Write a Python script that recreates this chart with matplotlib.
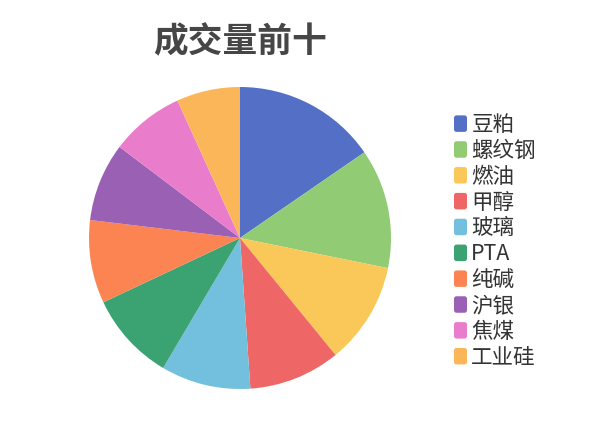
import matplotlib
matplotlib.use("Agg")
import matplotlib.pyplot as plt
from matplotlib.patches import FancyBboxPatch
from matplotlib.legend_handler import HandlerBase

plt.rcParams['font.family'] = ['Noto Sans CJK SC', 'DejaVu Sans']

title = "成交量前十"
categories = ["豆粕", "螺纹钢", "燃油", "甲醇", "玻璃", "PTA", "纯碱", "沪银", "焦煤", "工业硅"]
values = [15.4, 12.8, 10.9, 9.8, 9.6, 9.5, 8.9, 8.4, 7.9, 6.8]
colors = ["#5470c6", "#91cc75", "#fac858", "#ee6666", "#73c0de",
          "#3ba272", "#fc8452", "#9a60b4", "#ea7ccc", "#fcb65a"]

W, H = 600, 428
PX = 72 / 100  # points per pixel
fig = plt.figure(figsize=(6, 4.28), dpi=100)
cx, cy, r = 240, 238, 151
ax = fig.add_axes([(cx - r) / W, (H - cy - r) / H, 2 * r / W, 2 * r / H])
wedges, _ = ax.pie(values, colors=colors, startangle=90, counterclock=False,
                   radius=1.0, wedgeprops=dict(linewidth=0))
ax.set_xlim(-1, 1)
ax.set_ylim(-1, 1)
ax.set_aspect('equal')
ax.axis('off')

fig.text(cx / W, 1 - 42 / H, title, ha='center', va='center', fontsize=25,
         fontweight='bold', color='#464646')


class RoundHandler(HandlerBase):
    def create_artists(self, legend, orig_handle, xdescent, ydescent, width, height, fontsize, trans):
        w, h = 13 * PX, 16.5 * PX
        pad = 2.5 * PX
        x0 = (width - w) / 2 - xdescent
        y0 = (height - h) / 2 - ydescent
        p = FancyBboxPatch((x0 + pad, y0 + pad), w - 2 * pad, h - 2 * pad,
                           boxstyle="round,pad=%f" % pad, facecolor=orig_handle.get_facecolor(),
                           edgecolor='none', transform=trans)
        return [p]


FS = 15.5
leg = fig.legend(wedges, categories, loc='upper left',
                 bbox_to_anchor=(454 / W, 1 - 114 / H),
                 frameon=False, fontsize=FS, labelcolor='#333333',
                 handler_map={type(wedges[0]): RoundHandler()},
                 handlelength=13 * PX / FS, handleheight=1.0, handletextpad=0.2,
                 labelspacing=0.178, borderaxespad=0, borderpad=0)

fig.savefig("out.png", dpi=100)
